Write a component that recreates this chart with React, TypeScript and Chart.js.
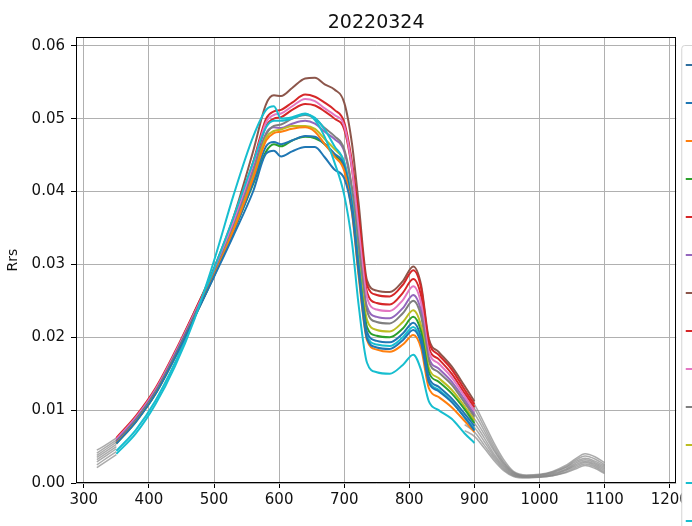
import { useEffect, useRef } from "react";
import { Chart, registerables } from "chart.js";

Chart.register(...registerables);

const TITLE = "20220324";
const Y_LABEL = "Rrs";
const X_MIN = 288;
const X_MAX = 1210;
const Y_MIN = 0;
const Y_MAX = 0.0612;
const X_TICKS = [300, 400, 500, 600, 700, 800, 900, 1000, 1100, 1200];
const Y_TICKS = [0, 0.01, 0.02, 0.03, 0.04, 0.05, 0.06];

// wavelengths (nm) of the coloured spectra
const WL = [350, 380, 410, 440, 470, 500, 530, 560, 580, 592, 603, 620, 640, 655, 670, 685, 700, 712, 722, 735, 750, 770, 790, 806, 818, 830, 845, 865, 885, 900];

const BROWN = [0.0060, 0.0090, 0.0128, 0.0178, 0.0235, 0.0295, 0.0365, 0.0455, 0.0520, 0.0532, 0.0531, 0.0542, 0.0555, 0.0556, 0.0547, 0.0540, 0.0522, 0.0465, 0.0385, 0.0278, 0.0264, 0.0262, 0.0277, 0.0297, 0.0272, 0.0198, 0.0180, 0.0160, 0.0133, 0.0112];
const RED_A = [0.0062, 0.0092, 0.0130, 0.0180, 0.0235, 0.0292, 0.0360, 0.0440, 0.0500, 0.0510, 0.0512, 0.0522, 0.0533, 0.0530, 0.0522, 0.0512, 0.0495, 0.0440, 0.0370, 0.0272, 0.0258, 0.0256, 0.0272, 0.0292, 0.0268, 0.0194, 0.0176, 0.0156, 0.0128, 0.0108];
const RED_B = [0.0058, 0.0088, 0.0126, 0.0176, 0.0232, 0.0290, 0.0355, 0.0432, 0.0490, 0.0500, 0.0502, 0.0512, 0.0520, 0.0518, 0.0510, 0.0500, 0.0485, 0.0430, 0.0355, 0.0262, 0.0247, 0.0245, 0.0261, 0.0280, 0.0257, 0.0186, 0.0170, 0.0150, 0.0123, 0.0104];
const PINK = [0.0060, 0.0090, 0.0128, 0.0178, 0.0233, 0.0291, 0.0358, 0.0436, 0.0495, 0.0505, 0.0507, 0.0517, 0.0527, 0.0524, 0.0514, 0.0505, 0.0490, 0.0432, 0.0350, 0.0255, 0.0238, 0.0236, 0.0251, 0.0270, 0.0247, 0.0180, 0.0164, 0.0145, 0.0119, 0.0099];
const PURPLE = [0.0058, 0.0088, 0.0126, 0.0176, 0.0231, 0.0288, 0.0352, 0.0428, 0.0480, 0.0488, 0.0487, 0.0493, 0.0497, 0.0493, 0.0482, 0.0472, 0.0455, 0.0400, 0.0325, 0.0242, 0.0228, 0.0226, 0.0240, 0.0258, 0.0236, 0.0172, 0.0157, 0.0139, 0.0114, 0.0094];
const GREY = [0.0056, 0.0086, 0.0124, 0.0174, 0.0229, 0.0286, 0.0350, 0.0425, 0.0478, 0.0490, 0.0492, 0.0500, 0.0505, 0.0500, 0.0487, 0.0476, 0.0458, 0.0405, 0.0328, 0.0236, 0.0221, 0.0219, 0.0233, 0.0250, 0.0229, 0.0167, 0.0152, 0.0135, 0.0110, 0.0091];
const OLIVE = [0.0054, 0.0084, 0.0122, 0.0172, 0.0228, 0.0285, 0.0348, 0.0420, 0.0474, 0.0483, 0.0485, 0.0490, 0.0490, 0.0486, 0.0472, 0.0458, 0.0440, 0.0385, 0.0305, 0.0224, 0.0210, 0.0208, 0.0221, 0.0237, 0.0216, 0.0158, 0.0144, 0.0128, 0.0105, 0.0086];
const GREEN = [0.0055, 0.0085, 0.0123, 0.0173, 0.0228, 0.0284, 0.0345, 0.0410, 0.0455, 0.0465, 0.0462, 0.0470, 0.0475, 0.0473, 0.0465, 0.0450, 0.0432, 0.0380, 0.0300, 0.0214, 0.0202, 0.0200, 0.0212, 0.0228, 0.0208, 0.0152, 0.0139, 0.0123, 0.0101, 0.0082];
const ORANGE = [0.0055, 0.0085, 0.0123, 0.0173, 0.0228, 0.0285, 0.0347, 0.0418, 0.0470, 0.0480, 0.0482, 0.0486, 0.0488, 0.0482, 0.0465, 0.0448, 0.0428, 0.0370, 0.0285, 0.0196, 0.0183, 0.0180, 0.0190, 0.0203, 0.0185, 0.0130, 0.0118, 0.0104, 0.0085, 0.0070];
const BLUE_B = [0.0056, 0.0086, 0.0124, 0.0174, 0.0229, 0.0285, 0.0345, 0.0412, 0.0462, 0.0468, 0.0465, 0.0470, 0.0476, 0.0475, 0.0465, 0.0452, 0.0435, 0.0380, 0.0295, 0.0207, 0.0195, 0.0193, 0.0205, 0.0220, 0.0200, 0.0145, 0.0132, 0.0116, 0.0095, 0.0078];
const BLUE_A = [0.0054, 0.0084, 0.0122, 0.0172, 0.0227, 0.0283, 0.0340, 0.0400, 0.0452, 0.0456, 0.0448, 0.0455, 0.0461, 0.0461, 0.0447, 0.0430, 0.0418, 0.0372, 0.0290, 0.0198, 0.0186, 0.0184, 0.0196, 0.0210, 0.0192, 0.0138, 0.0126, 0.0111, 0.0090, 0.0072];
const CYAN_B = [0.0044, 0.0073, 0.0113, 0.0165, 0.0227, 0.0294, 0.0365, 0.0440, 0.0488, 0.0497, 0.0497, 0.0500, 0.0506, 0.0501, 0.0485, 0.0462, 0.0440, 0.0385, 0.0300, 0.0202, 0.0190, 0.0188, 0.0200, 0.0214, 0.0194, 0.0140, 0.0128, 0.0112, 0.0090, 0.0074];
const CYAN_A = [0.0040, 0.0068, 0.0108, 0.0160, 0.0225, 0.0305, 0.0395, 0.0475, 0.0512, 0.0517, 0.0500, 0.0502, 0.0507, 0.0498, 0.0475, 0.0440, 0.0395, 0.0330, 0.0245, 0.0165, 0.0152, 0.0150, 0.0162, 0.0176, 0.0155, 0.0112, 0.0100, 0.0088, 0.0068, 0.0055];

// grey full-range spectra (null = gap hidden under the coloured curves)
const GRAY_WL = [320, 335, 350, 620, 885, 900, 915, 930, 945, 960, 980, 1000, 1020, 1040, 1055, 1070, 1085, 1100];
const GRAY_1 = [0.0045, 0.0053, 0.0062, null, 0.0125, 0.0108, 0.0082, 0.0055, 0.0032, 0.0016, 0.0011, 0.0012, 0.0016, 0.0024, 0.0033, 0.0040, 0.0036, 0.0028];
const GRAY_2 = [0.0041, 0.0050, 0.0059, null, 0.0118, 0.0102, 0.0077, 0.0051, 0.0029, 0.0015, 0.0010, 0.0011, 0.0015, 0.0022, 0.0031, 0.0037, 0.0033, 0.0025];
const GRAY_3 = [0.0038, 0.0047, 0.0056, null, 0.0110, 0.0095, 0.0072, 0.0047, 0.0027, 0.0014, 0.0010, 0.0011, 0.0014, 0.0021, 0.0029, 0.0034, 0.0030, 0.0023];
const GRAY_4 = [0.0035, 0.0044, 0.0053, null, 0.0102, 0.0088, 0.0067, 0.0044, 0.0025, 0.0013, 0.0009, 0.0010, 0.0013, 0.0019, 0.0027, 0.0032, 0.0028, 0.0021];
const GRAY_5 = [0.0032, 0.0041, 0.0050, null, 0.0095, 0.0082, 0.0062, 0.0040, 0.0023, 0.0012, 0.0009, 0.0009, 0.0012, 0.0018, 0.0025, 0.0030, 0.0026, 0.0019];
const GRAY_6 = [0.0029, 0.0038, 0.0047, null, 0.0088, 0.0076, 0.0057, 0.0037, 0.0021, 0.0011, 0.0008, 0.0009, 0.0011, 0.0017, 0.0023, 0.0028, 0.0024, 0.0017];
const GRAY_7 = [0.0025, 0.0034, 0.0043, null, 0.0080, 0.0070, 0.0052, 0.0034, 0.0019, 0.0010, 0.0008, 0.0008, 0.0010, 0.0015, 0.0021, 0.0026, 0.0022, 0.0015];
const GRAY_8 = [0.0021, 0.0030, 0.0039, null, 0.0072, 0.0064, 0.0048, 0.0031, 0.0017, 0.0009, 0.0007, 0.0008, 0.0010, 0.0014, 0.0019, 0.0024, 0.0020, 0.0013];

const LEGEND_COLORS = ["#2f6f9f", "#1f77b4", "#ff7f0e", "#2ca02c", "#d62728", "#9467bd", "#8c564b", "#d62728", "#e377c2", "#7f7f7f", "#bcbd22", "#17becf", "#17becf"];

// first in list = drawn on top
const COLORED: [number[], string][] = [
  [CYAN_A, "#17becf"],
  [BLUE_A, "#1f77b4"],
  [ORANGE, "#ff7f0e"],
  [BLUE_B, "#1f77b4"],
  [CYAN_B, "#17becf"],
  [GREEN, "#2ca02c"],
  [OLIVE, "#bcbd22"],
  [GREY, "#7f7f7f"],
  [PURPLE, "#9467bd"],
  [PINK, "#e377c2"],
  [RED_B, "#d62728"],
  [RED_A, "#d62728"],
  [BROWN, "#8c564b"],
];
const GRAYS = [GRAY_1, GRAY_2, GRAY_3, GRAY_4, GRAY_5, GRAY_6, GRAY_7, GRAY_8];

const FONT = "'DejaVu Sans', sans-serif";

const decorPlugin = {
  id: "decor",
  afterDraw(chart: any) {
    const { ctx, chartArea: a } = chart;
    ctx.save();
    ctx.strokeStyle = "#000";
    ctx.lineWidth = 1;
    ctx.strokeRect(Math.round(a.left) + 0.5, Math.round(a.top) + 0.5, Math.round(a.right - a.left) - 1, Math.round(a.bottom - a.top) - 1);
    ctx.fillStyle = "#111";
    ctx.font = `19px ${FONT}`;
    ctx.textAlign = "center";
    ctx.textBaseline = "alphabetic";
    ctx.fillText(TITLE, (a.left + a.right) / 2, 28);
    // legend (cut off by the canvas edge)
    const lx = a.right + 5.5;
    const ly = 45.5;
    ctx.fillStyle = "#fff";
    ctx.strokeStyle = "#d4d4d4";
    ctx.beginPath();
    ctx.roundRect(lx, ly, 60, 600, 3);
    ctx.fill();
    ctx.stroke();
    LEGEND_COLORS.forEach((c, i) => {
      ctx.strokeStyle = c;
      ctx.lineWidth = 2;
      ctx.beginPath();
      const y = 65 + 38 * i;
      ctx.moveTo(lx + 4, y);
      ctx.lineTo(lx + 30, y);
      ctx.stroke();
    });
    ctx.restore();
  },
};

export default function App() {
  const ref = useRef<HTMLCanvasElement | null>(null);
  useEffect(() => {
    if (!ref.current) return;
    const datasets: any[] = [];
    COLORED.forEach(([vals, color]) => {
      datasets.push({
        data: WL.map((x, i) => ({ x, y: vals[i] })),
        borderColor: color,
        borderWidth: 2,
        pointRadius: 0,
        cubicInterpolationMode: "monotone",
        fill: false,
      });
    });
    GRAYS.forEach((vals) => {
      datasets.push({
        data: GRAY_WL.map((x, i) => ({ x, y: vals[i] })),
        borderColor: "rgba(135,135,135,0.7)",
        borderWidth: 1.5,
        pointRadius: 0,
        spanGaps: false,
        cubicInterpolationMode: "monotone",
        fill: false,
      });
    });
    const chart = new Chart(ref.current, {
      type: "line",
      data: { datasets },
      plugins: [decorPlugin],
      options: {
        animation: false,
        responsive: false,
        devicePixelRatio: 1,
        layout: { padding: { top: 37, right: 15, left: 0, bottom: 0 } },
        plugins: { legend: { display: false }, title: { display: false }, tooltip: { enabled: false } },
        scales: {
          x: {
            type: "linear",
            min: X_MIN,
            max: X_MAX,
            afterBuildTicks: (s: any) => { s.ticks = X_TICKS.map((v) => ({ value: v })); },
            afterFit: (s: any) => { s.height = 43; },
            grid: { color: "#b0b0b0", lineWidth: 1, tickColor: "#000", tickLength: 5, drawTicks: true },
            border: { display: false },
            ticks: { color: "#111", font: { family: FONT, size: 15 }, padding: 3, maxRotation: 0, autoSkip: false, callback: (v: any) => String(v) },
          },
          y: {
            type: "linear",
            min: Y_MIN,
            max: Y_MAX,
            afterBuildTicks: (s: any) => { s.ticks = Y_TICKS.map((v) => ({ value: v })); },
            afterFit: (s: any) => { s.width = 76; },
            grid: { color: "#b0b0b0", lineWidth: 1, tickColor: "#000", tickLength: 5, drawTicks: true },
            border: { display: false },
            title: { display: true, text: Y_LABEL, color: "#111", font: { family: FONT, size: 14 }, padding: { top: 5, bottom: 0 } },
            ticks: { color: "#111", font: { family: FONT, size: 15 }, padding: 6, autoSkip: false, callback: (v: any) => Number(v).toFixed(2) },
          },
        },
      },
    });
    return () => chart.destroy();
  }, []);
  return (
    <div style={{ position: "fixed", left: 0, top: 0, width: 692, height: 526, background: "#fff" }}>
      <canvas ref={ref} width={692} height={526} style={{ display: "block", width: 692, height: 526 }} />
    </div>
  );
}
